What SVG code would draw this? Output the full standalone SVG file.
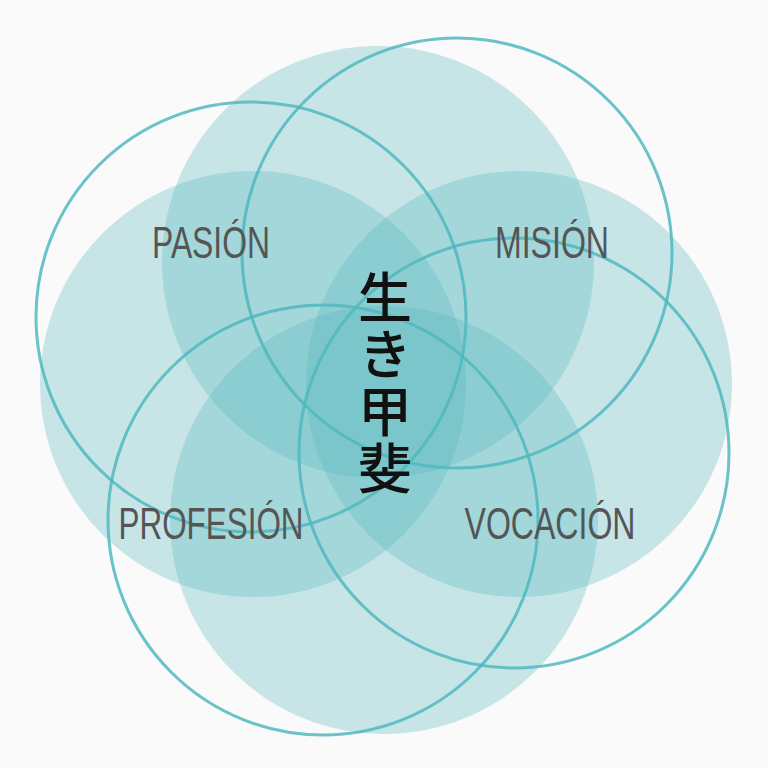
<svg xmlns="http://www.w3.org/2000/svg" width="768" height="768" viewBox="0 0 768 768">
  <style>
    .fill { fill: #53b7be; fill-opacity: 0.3; stroke: none; }
    .ring { fill: none; stroke: #4fb8be; stroke-opacity: 0.85; stroke-width: 3; }
    .lbl { font-family: "Liberation Sans", "DejaVu Sans", sans-serif; font-size: 44px; fill: #555555; text-anchor: middle; }
    .kanji { font-family: "Noto Sans CJK JP", sans-serif; font-size: 54px; font-weight: 500; fill: #111111; writing-mode: vertical-rl; text-orientation: upright; letter-spacing: 3px; }
  </style>
  <rect x="0" y="0" width="768" height="768" fill="#fafafa"/>
  <g id="fills">
    <circle id="fill-top" class="fill" cx="378" cy="262" r="216"/>
    <circle id="fill-left" class="fill" cx="253" cy="384" r="213"/>
    <circle id="fill-right" class="fill" cx="519" cy="384" r="213"/>
    <circle id="fill-bottom" class="fill" cx="384" cy="520" r="214"/>
  </g>
  <g id="rings">
    <circle id="ring-tl" class="ring" cx="251" cy="317" r="215"/>
    <circle id="ring-tr" class="ring" cx="457" cy="253" r="215"/>
    <circle id="ring-bl" class="ring" cx="323" cy="520" r="215"/>
    <circle id="ring-br" class="ring" cx="514" cy="453" r="215"/>
  </g>
  <g id="pasion"><text class="lbl" x="211" y="258" textLength="118" lengthAdjust="spacingAndGlyphs">PASIÓN</text></g>
  <g id="mision"><text class="lbl" x="552" y="258" textLength="114" lengthAdjust="spacingAndGlyphs">MISIÓN</text></g>
  <g id="profesion"><text class="lbl" x="211" y="539" textLength="185" lengthAdjust="spacingAndGlyphs">PROFESIÓN</text></g>
  <g id="vocacion"><text class="lbl" x="550" y="539" textLength="171" lengthAdjust="spacingAndGlyphs">VOCACIÓN</text></g>
  <g id="ikigai">
    <text class="kanji" x="385" y="270">生き甲斐</text>
  </g>
</svg>
